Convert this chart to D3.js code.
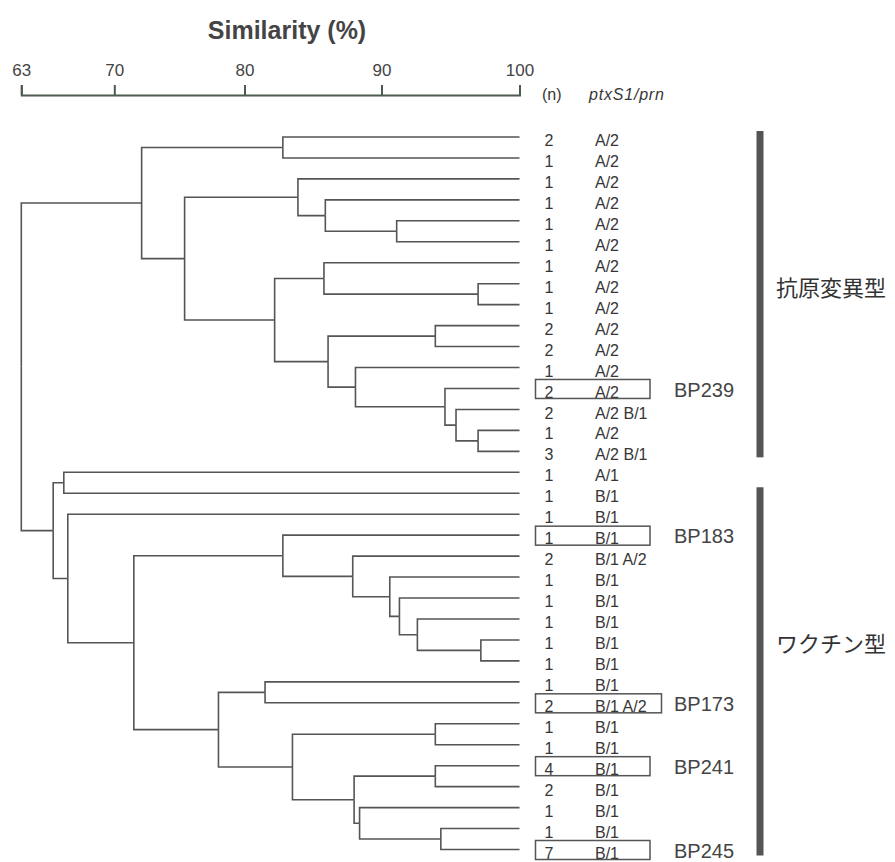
<!DOCTYPE html>
<html>
<head>
<meta charset="utf-8">
<script src="https://cdn.jsdelivr.net/npm/d3@7"></script>
<style>
  body { margin: 0; background: #fff; }
  text { font-family: "Liberation Sans", Arial, Helvetica, sans-serif; fill: #363636; }
</style>
</head>
<body>
<div id="view"></div>
<script>
var width = 895, height = 862;

// strain counts (n) and ptxS1/prn profile, top to bottom
var counts = [2,1,1,1,1,1,1,1,1,2,2,1,2,2,1,3,
              1,
              1,1,1,2,1,1,1,1,1,1,2,1,1,4,2,1,1,7];
var profiles = ["A/2","A/2","A/2","A/2","A/2","A/2","A/2","A/2","A/2","A/2","A/2","A/2","A/2","A/2 B/1","A/2","A/2 B/1",
                "A/1",
                "B/1","B/1","B/1","B/1 A/2","B/1","B/1","B/1","B/1","B/1","B/1","B/1 A/2","B/1","B/1","B/1","B/1","B/1","B/1","B/1"];

// merges: [upper child, lower child, similarity %]; numbers = leaf rows, "mK" = K-th merge
var merges = [
  [4, 5, 91.1],  [3, "m0", 85.9],  [2, "m1", 83.9],  [0, 1, 82.8],
  [7, 8, 97.0],  [6, "m4", 85.8],
  [14, 15, 97.0], [13, "m6", 95.4], [12, "m7", 94.6], [11, "m8", 88.1],
  [9, 10, 93.9], ["m10", "m9", 86.1], ["m5", "m11", 82.2],
  ["m2", "m12", 75.4], ["m3", "m13", 72.1],
  [24, 25, 97.2], [23, "m15", 92.6], [22, "m16", 91.3], [21, "m17", 90.6],
  [20, "m18", 87.9], [19, "m19", 82.8],
  [26, 27, 81.5], [28, 29, 93.9], [30, 31, 93.9], [33, 34, 94.3],
  [32, "m24", 88.4], ["m23", "m25", 88.0], ["m22", "m26", 83.5],
  ["m21", "m27", 78.0], ["m20", "m28", 71.5], [18, "m29", 66.5],
  [16, 17, 66.2], ["m31", "m30", 65.4], ["m14", "m32", 63.0]
];

var axisTicks = [63, 70, 80, 90, 100];

// boxed reference strains
var markedRows = [12, 19, 27, 30, 34];
var markedNames = ["BP239", "BP183", "BP173", "BP241", "BP245"];

// cluster groups
var groupNames = ["抗原変異型", "ワクチン型"];
var groupFirst = [0, 17];
var groupLast = [15, 34];
var groupLabelRow = [7, 24];

var svg = d3.select("#view").append("svg")
  .attr("width", width)
  .attr("height", height);

// the printed scale is slightly uneven; follow its tick marks
var x = d3.scaleLinear().domain(axisTicks).range([21.3, 114.3, 244.5, 381.5, 519.5]);
var y = d3.scalePoint().domain(d3.range(counts.length)).range([137, 849.5]);

// build nested tree from merges
var built = [];
function node(ref) {
  if (typeof ref === "number") return { row: ref, sim: 100 };
  return built[+ref.slice(1)];
}
merges.forEach(function(m, i) {
  built[i] = { sim: m[2], children: [node(m[0]), node(m[1])] };
});
var root = d3.hierarchy(built[built.length - 1]);
root.eachAfter(function(d) {
  d.px = x(d.data.sim);
  if (d.children) {
    d.py = (d.children[0].py + d.children[d.children.length - 1].py) / 2;
  } else {
    d.py = y(d.data.row);
  }
});

// axis
svg.append("text")
  .attr("x", 287).attr("y", 39)
  .attr("text-anchor", "middle")
  .style("font-size", "25px").style("font-weight", "bold").style("fill", "#444")
  .text("Similarity (%)");

var axis = svg.append("g")
  .attr("transform", "translate(0,95)")
  .call(d3.axisTop(x).tickValues(axisTicks).tickSize(10).tickSizeOuter(10).tickPadding(9));
axis.select(".domain").attr("stroke", "#4d5c4f").attr("stroke-width", 2);
axis.selectAll(".tick line").attr("stroke", "#4d5c4f").attr("stroke-width", 2);
axis.selectAll(".tick text")
  .style("font-size", "17px").style("fill", "#444")
  .style("font-family", "'Liberation Sans', Arial, sans-serif");

svg.append("text").attr("x", 542).attr("y", 100)
  .style("font-size", "16px").text("(n)");
svg.append("text").attr("x", 589).attr("y", 100)
  .style("font-size", "16px").style("font-style", "italic")
  .style("letter-spacing", "0.8px").text("ptxS1/prn");

// dendrogram branches
svg.append("g").selectAll("path")
  .data(root.links()).enter()
  .append("path")
  .attr("d", function(l) {
    return "M" + l.source.px + "," + l.source.py + "V" + l.target.py + "H" + l.target.px;
  })
  .attr("fill", "none")
  .attr("stroke", "#555")
  .attr("stroke-width", 1.6);

// leaf labels
var rows = svg.append("g").selectAll("g")
  .data(counts).enter()
  .append("g")
  .attr("transform", function(d, i) { return "translate(0," + y(i) + ")"; });
rows.append("text")
  .attr("x", 549).attr("dy", "0.38em").attr("y", 3)
  .attr("text-anchor", "middle")
  .style("font-size", "16px")
  .text(function(d) { return d; });
rows.append("text")
  .attr("x", 595).attr("dy", "0.38em").attr("y", 3)
  .style("font-size", "16px")
  .text(function(d, i) { return profiles[i]; });

// reference strain boxes
var marks = svg.append("g").selectAll("g")
  .data(markedRows).enter()
  .append("g")
  .attr("transform", function(d) { return "translate(0," + y(d) + ")"; });
marks.append("rect")
  .attr("x", 535.5).attr("y", -9)
  .attr("width", function(d) { return profiles[d].length > 3 ? 126 : 114.5; })
  .attr("height", 19)
  .attr("fill", "none").attr("stroke", "#555").attr("stroke-width", 1.5);
marks.append("text")
  .attr("x", 674).attr("y", 1).attr("dy", "0.36em")
  .style("font-size", "20px").style("fill", "#444")
  .text(function(d, i) { return markedNames[i]; });

// group bars
var groups = svg.append("g").selectAll("g")
  .data(groupNames).enter().append("g");
groups.append("rect")
  .attr("x", 756.5).attr("width", 7)
  .attr("y", function(d, i) { return y(groupFirst[i]) - 6; })
  .attr("height", function(d, i) { return y(groupLast[i]) - y(groupFirst[i]) + 12; })
  .attr("fill", "#555");
groups.append("text")
  .attr("x", 776)
  .attr("y", function(d, i) { return y(groupLabelRow[i]) + 4; })
  .attr("dy", "0.36em")
  .style("font-size", "22px")
  .style("font-family", "'Noto Sans CJK JP', sans-serif")
  .style("fill", "#333")
  .text(function(d) { return d; });
</script>
</body>
</html>
